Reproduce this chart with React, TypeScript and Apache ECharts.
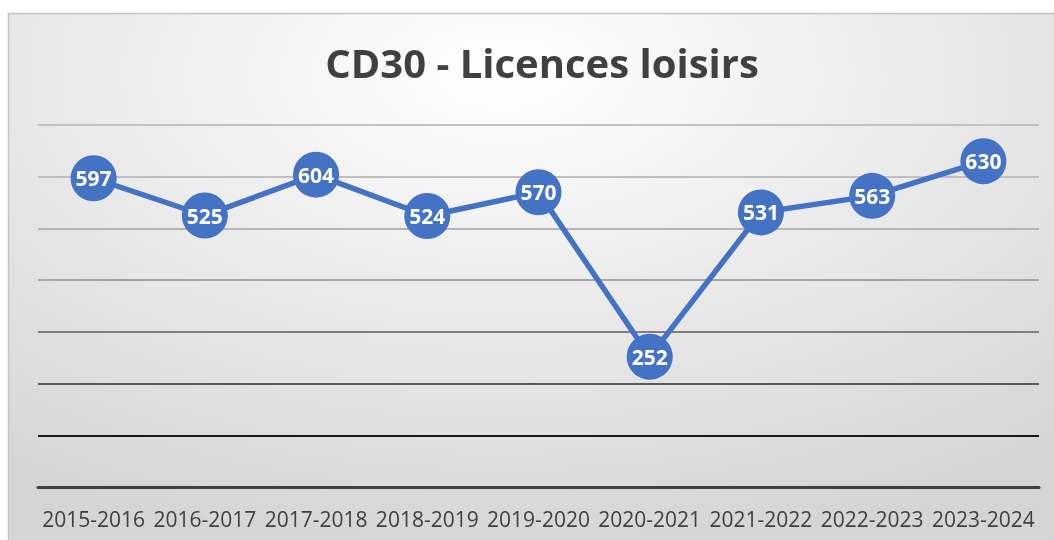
import React, { useEffect, useRef } from "react";
import * as echarts from "echarts";

const categories = ["2015-2016", "2016-2017", "2017-2018", "2018-2019", "2019-2020", "2020-2021", "2021-2022", "2022-2023", "2023-2024"];
const licences = [597, 525, 604, 524, 570, 252, 531, 563, 630];
const titleText = "CD30 - Licences loisirs";
const gridColors = ["#404040", "#1a1a1a", "#595959", "#7f7f7f", "#a6a6a6", "#b5b5b5", "#bfbfbf", "#c2c2c2"];

export default function App() {
  const ref = useRef<HTMLDivElement>(null);
  useEffect(() => {
    if (!ref.current) return;
    const chart = echarts.init(ref.current, null, { renderer: "svg" });
    const font = "'Open Sans', 'Noto Sans', sans-serif";
    chart.setOption({
      animation: false,
      textStyle: { fontFamily: font },
      graphic: [
        {
          type: "rect",
          z: -10,
          silent: true,
          shape: { x: 8.5, y: 13.5, width: 1100, height: 600 },
          style: {
            fill: new echarts.graphic.RadialGradient(0.45, 0.1, 0.8, [
              { offset: 0, color: "#ffffff" },
              { offset: 1, color: "#d5d5d5" },
            ]),
            stroke: "#c4c4c4",
            lineWidth: 1.5,
          },
        },
      ],
      title: {
        text: titleText,
        left: 537,
        top: 37,
        textAlign: "center",
        textStyle: { fontFamily: font, fontWeight: "bold", fontSize: 40, color: "#404040" },
      },
      grid: { left: 38, right: 15, top: 125, bottom: 53, containLabel: false },
      xAxis: {
        type: "category",
        data: categories,
        boundaryGap: true,
        axisTick: { show: false },
        axisLine: { show: true, lineStyle: { color: "#404040", width: 3 } },
        axisLabel: { color: "#404040", fontSize: 21, margin: 21, fontFamily: font, interval: 0 },
        z: 5,
      },
      yAxis: {
        type: "value",
        min: 0,
        max: 700,
        interval: 100,
        axisLabel: { show: false },
        axisLine: { show: false },
        axisTick: { show: false },
        splitLine: { show: true, lineStyle: { color: gridColors, width: 2 } },
      },
      series: [
        {
          type: "line",
          data: licences,
          symbol: "circle",
          symbolSize: 46,
          lineStyle: { color: "#4472c4", width: 5.5 },
          itemStyle: { color: "#4472c4" },
          label: {
            show: true,
            position: "inside",
            color: "#ffffff",
            fontWeight: "bold",
            fontSize: 21,
            fontFamily: font,
          },
          z: 10,
        },
      ],
    });
    return () => chart.dispose();
  }, []);
  return <div ref={ref} style={{ position: "fixed", left: 0, top: 0, width: 1054, height: 540 }} />;
}
